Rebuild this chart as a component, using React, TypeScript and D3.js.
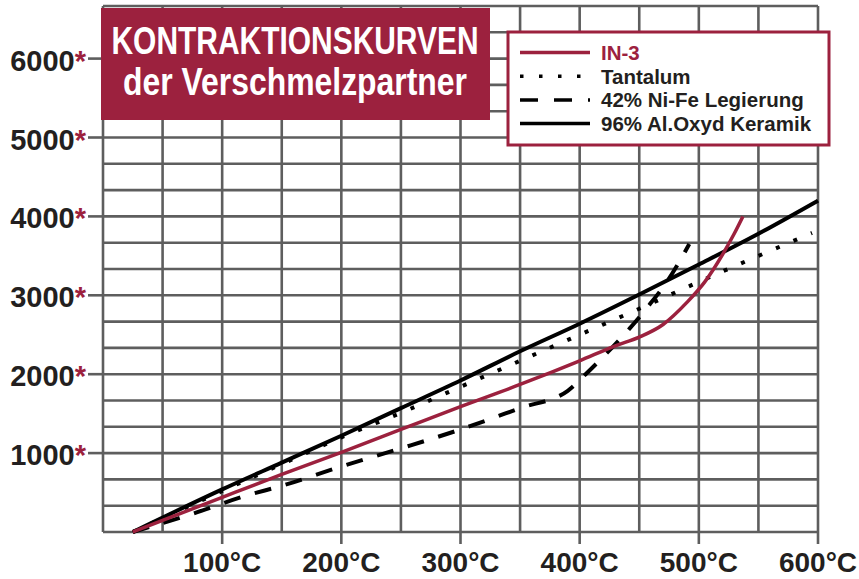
import React from "react";
import * as d3 from "d3";

const width = 859;
const height = 579;
const margin = { top: 6, right: 41, bottom: 47, left: 103 };

const red = "#9c213e";
const ink = "#231f20";
const gridColor = "#5e5e5e";
const font = "'Liberation Sans', Arial, Helvetica, sans-serif";

// series values: [temperature in °C, contraction]
const in3 = [
  [25, 0], [100, 440], [150, 730], [200, 1010], [250, 1300], [300, 1590],
  [350, 1870], [400, 2170], [430, 2360], [450, 2470], [470, 2630],
  [490, 2910], [505, 3170], [520, 3520], [530, 3790], [537, 4000]
];
const tantalum = [
  [25, 0], [100, 520], [150, 860], [200, 1200], [250, 1510], [300, 1840],
  [350, 2170], [400, 2500], [450, 2830], [500, 3170], [550, 3500], [595, 3790]
];
const nife = [
  [25, 0], [75, 230], [120, 460], [150, 585], [200, 830], [250, 1060],
  [300, 1300], [350, 1570], [390, 1790], [405, 2000], [428, 2350],
  [442, 2580], [458, 2870], [474, 3190], [492, 3650]
];
const oxyd = [
  [25, 0], [100, 540], [150, 880], [200, 1220], [250, 1570], [300, 1920],
  [350, 2290], [400, 2640], [450, 3010], [500, 3390], [550, 3780], [600, 4200]
];

const yTicks = [1000, 2000, 3000, 4000, 5000, 6000];
const xTicks = [100, 200, 300, 400, 500, 600];
const legendLabels = ["IN-3", "Tantalum", "42% Ni-Fe Legierung", "96% Al.Oxyd Keramik"];
const titleLines = ["KONTRAKTIONSKURVEN", "der Verschmelzpartner"];

const yMax = 20000 / 3;

export default function App() {
  const x = d3
    .scaleLinear()
    .domain([0, 600])
    .range([margin.left, width - margin.right]);
  const y = d3
    .scaleLinear()
    .domain([0, yMax])
    .range([height - margin.bottom, margin.top]);

  const line = d3
    .line<number[]>()
    .x((d) => x(d[0]))
    .y((d) => y(d[1]))
    .curve(d3.curveMonotoneX);

  const vGrid = d3.range(0, 601, 50);
  const hGrid = d3.range(0, 21).map((i) => (i * yMax) / 20);

  // legend styles, same order as legendLabels
  const styles = [
    { stroke: red, dash: undefined, w: 3.5, legendDash: undefined },
    { stroke: "#000", dash: "4 15", w: 4, legendDash: "3.5 15.5" },
    { stroke: "#000", dash: "17 15", w: 4, legendDash: "18 16" },
    { stroke: "#000", dash: undefined, w: 4, legendDash: undefined }
  ];
  const series = [in3, tantalum, nife, oxyd];
  // draw order: ceramic first, IN-3 on top
  const drawOrder = [3, 2, 1, 0];

  return (
    <div style={{ position: "absolute", left: 0, top: 0 }}>
      <svg width={width} height={height} style={{ display: "block", background: "#fff" }}>
        {/* grid */}
        <g stroke={gridColor} strokeWidth={2.6}>
          {vGrid.map((t) => (
            <line key={"v" + t} x1={x(t)} x2={x(t)} y1={y(yMax)} y2={y(0)} />
          ))}
          {hGrid.map((v, i) => (
            <line key={"h" + i} x1={x(0)} x2={x(600)} y1={y(v)} y2={y(v)} />
          ))}
          {yTicks.map((v) => (
            <line key={"yt" + v} x1={x(0) - 15} x2={x(0)} y1={y(v)} y2={y(v)} />
          ))}
          {xTicks.map((t) => (
            <line key={"xt" + t} x1={x(t)} x2={x(t)} y1={y(0)} y2={y(0) + 12} />
          ))}
        </g>

        {/* axis labels */}
        {yTicks.map((v) => (
          <text
            key={"yl" + v}
            x={x(0) - 17}
            y={y(v) + 12}
            textAnchor="end"
            fontFamily={font}
            fontWeight="bold"
            fontSize={29}
            fill={ink}
          >
            {v}
            <tspan fill={red}>*</tspan>
          </text>
        ))}
        {xTicks.map((t) => (
          <text
            key={"xl" + t}
            x={x(t)}
            y={572}
            textAnchor="middle"
            fontFamily={font}
            fontWeight="bold"
            fontSize={28}
            fill={ink}
          >
            {t}°C
          </text>
        ))}

        {/* curves */}
        {drawOrder.map((i) => (
          <path
            key={"s" + i}
            d={line(series[i]) || ""}
            fill="none"
            stroke={styles[i].stroke}
            strokeWidth={styles[i].w}
            strokeDasharray={styles[i].dash}
          />
        ))}

        {/* title box */}
        <rect x={101} y={8} width={389} height={112} fill={red} />
        <text
          x={295}
          y={54}
          textAnchor="middle"
          fontFamily="'Liberation Sans Narrow', 'Arial Narrow', sans-serif"
          fontWeight="bold"
          fontSize={38}
          fill="#fff"
          textLength={367}
          lengthAdjust="spacingAndGlyphs"
        >
          {titleLines[0]}
        </text>
        <text
          x={295}
          y={95}
          textAnchor="middle"
          fontFamily="'Liberation Sans Narrow', 'Arial Narrow', sans-serif"
          fontWeight="bold"
          fontSize={38}
          fill="#fff"
          textLength={344}
          lengthAdjust="spacingAndGlyphs"
        >
          {titleLines[1]}
        </text>

        {/* legend */}
        <rect x={508} y={32} width={321} height={113} fill="#fff" stroke={red} strokeWidth={3} />
        {legendLabels.map((label, i) => {
          const ly = 52.5 + i * 23.7;
          return (
            <g key={"lg" + i}>
              <line
                x1={520}
                x2={590}
                y1={ly}
                y2={ly}
                stroke={styles[i].stroke}
                strokeWidth={3.5}
                strokeDasharray={styles[i].legendDash}
              />
              <text
                x={601}
                y={ly + 7.5}
                fontFamily={font}
                fontWeight="bold"
                fontSize={20.5}
                fill={i === 0 ? red : ink}
              >
                {label}
              </text>
            </g>
          );
        })}
      </svg>
    </div>
  );
}
